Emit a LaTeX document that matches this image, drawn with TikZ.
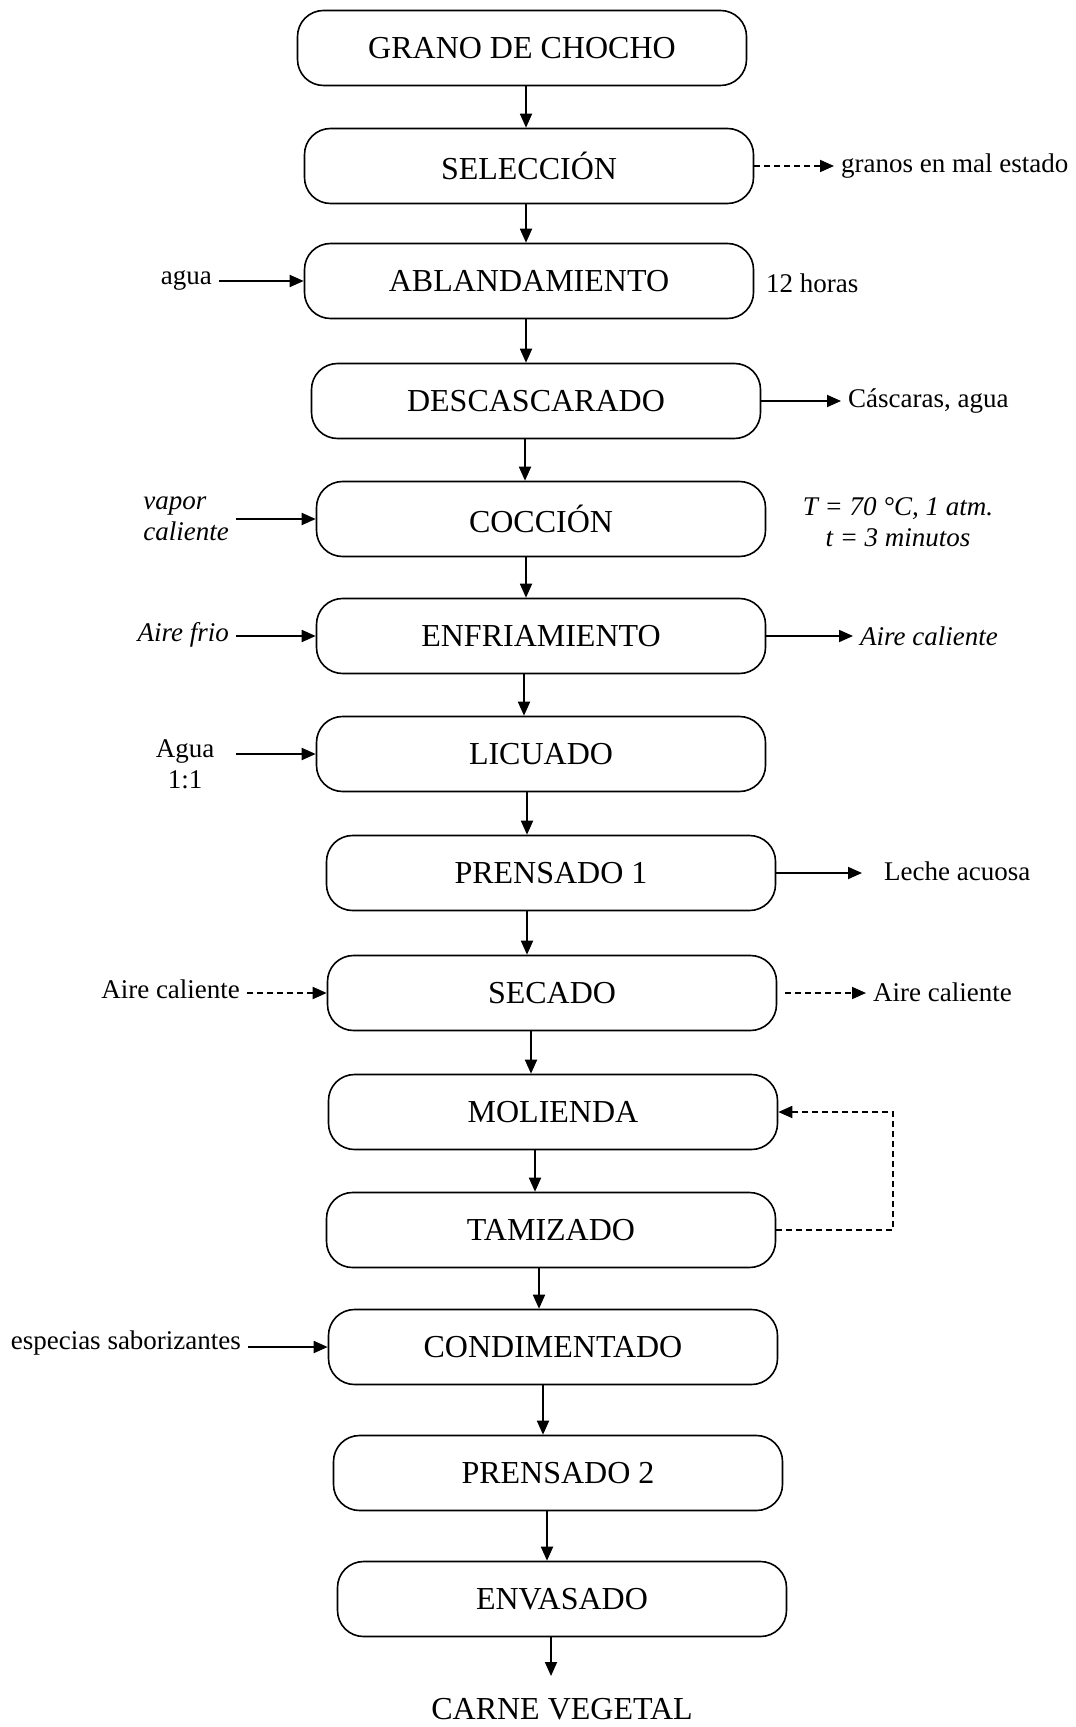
\documentclass[tikz,border=0pt]{standalone}
\usepackage{fontspec}
\setmainfont{Liberation Serif}
\usetikzlibrary{arrows.meta,positioning,calc}

\begin{document}
\begin{tikzpicture}[x=0.5pt,y=-0.5pt,
  proc/.style={draw,line width=0.8pt,rounded corners=13pt,
    minimum width=224.5pt,minimum height=37.5pt,
    font=\fontsize{16}{19}\selectfont},
  side/.style={font=\fontsize{13.5}{15.5}\selectfont},
  sideit/.style={font=\fontsize{13.5}{15.5}\selectfont\itshape},
  flow/.style={-{Triangle[length=7pt,width=6pt]},line width=0.9pt},
  dflow/.style={flow,dash pattern=on 3pt off 2pt}]
  \useasboundingbox (0,0) rectangle (1075,1727);

  % Process steps
  \node[proc] (gra) at (522,48) {GRANO DE CHOCHO};
  \node[proc] (sel) at (529,166) {SELECCIÓN};
  \node[proc] (abl) at (529,281) {ABLANDAMIENTO};
  \node[proc] (des) at (536,401) {DESCASCARADO};
  \node[proc] (coc) at (541,519) {COCCIÓN};
  \node[proc] (enf) at (541,636) {ENFRIAMIENTO};
  \node[proc] (lic) at (541,754) {LICUADO};
  \node[proc] (pr1) at (551,873) {PRENSADO 1};
  \node[proc] (sec) at (552,993) {SECADO};
  \node[proc] (mol) at (553,1112) {MOLIENDA};
  \node[proc] (tam) at (551,1230) {TAMIZADO};
  \node[proc] (con) at (553,1347) {CONDIMENTADO};
  \node[proc] (pr2) at (558,1473) {PRENSADO 2};
  \node[proc] (env) at (562,1599) {ENVASADO};
  \node[font=\fontsize{16}{19}\selectfont] (carne) at (562,1709) {CARNE VEGETAL};

  % Main flow
  \foreach \a/\b/\x in {gra/sel/526, sel/abl/526, abl/des/526, des/coc/525,
      coc/enf/526, enf/lic/524, lic/pr1/527, pr1/sec/527, sec/mol/531,
      mol/tam/535, tam/con/539, con/pr2/543, pr2/env/547}
    \draw[flow] (\a.south -| \x,0) -- (\b.north -| \x,0);
  \coordinate (fin) at (551,1676);
  \draw[flow] (env.south -| fin) -- (fin);

  % Inputs
  \node[side,anchor=east] (agua) at (219,280) {agua};
  \draw[flow] (agua.east |- abl.west) -- (abl.west);
  \node[sideit,anchor=east,align=left] (vap) at (236,519) {vapor\\caliente};
  \draw[flow] (vap.east) -- (coc.west);
  \node[sideit,anchor=east] (fri) at (236,635) {Aire frio};
  \draw[flow] (fri.east |- enf.west) -- (enf.west);
  \node[side,align=center,minimum width=51pt] (ag11) at (185,764) {Agua\\1:1};
  \draw[flow] (ag11.east |- lic.west) -- (lic.west);
  \node[side,anchor=east] (acin) at (247,989) {Aire caliente};
  \draw[dflow] (acin.east |- sec.west) -- (sec.west);
  \node[side,anchor=east] (esp) at (248,1343) {especias saborizantes};
  \draw[flow] (esp.east |- con.west) -- (con.west);

  % Outputs
  \node[side,anchor=west] (mal) at (834,166) {granos en mal estado};
  \draw[dflow] (sel.east) -- (mal.west);
  \node[side,anchor=west] (hor) at (759,283) {12 horas};
  \node[side,anchor=west] (cas) at (841,401) {Cáscaras, agua};
  \draw[flow] (des.east) -- (des.east -| cas.west);
  \node[sideit,align=center] (cond) at (898,522) {T = 70 °C, 1 atm.\\t = 3 minutos};
  \node[sideit,anchor=west] (acal) at (853,636) {Aire caliente};
  \draw[flow] (enf.east) -- (enf.east -| acal.west);
  \node[side,anchor=west] (lec) at (877,871) {Leche acuosa};
  \draw[flow,shorten >=7.5pt] (pr1.east) -- (pr1.east -| lec.west);
  \node[side,anchor=west] (acout) at (866,992) {Aire caliente};
  \draw[dflow,shorten <=4pt] (sec.east) -- (sec.east -| acout.west);

  % Recycle
  \draw[dflow] (tam.east) -- ++(117,0) |- (mol.east);
\end{tikzpicture}
\end{document}
